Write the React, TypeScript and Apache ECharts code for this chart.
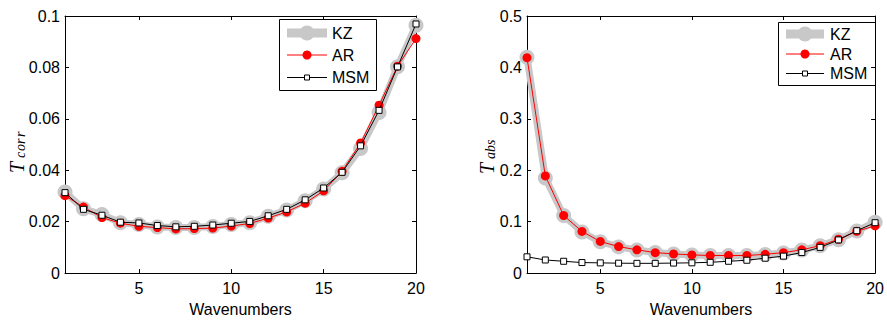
import React, { useEffect, useRef } from "react";
import * as echarts from "echarts";

// Wavenumber index shared by both panels
const wavenumbers = [1, 2, 3, 4, 5, 6, 7, 8, 9, 10, 11, 12, 13, 14, 15, 16, 17, 18, 19, 20];

// Left panel: T_corr
const corrKZ = [0.0315, 0.025, 0.0228, 0.0196, 0.0189, 0.0179, 0.0177, 0.0177, 0.0181, 0.0189, 0.0196, 0.0221, 0.0245, 0.0281, 0.0327, 0.039, 0.0485, 0.0625, 0.0803, 0.0964];
const corrAR = [0.0301, 0.0257, 0.0216, 0.0194, 0.0182, 0.0177, 0.0172, 0.0173, 0.0175, 0.0183, 0.0193, 0.0214, 0.0238, 0.0272, 0.032, 0.0396, 0.0506, 0.0653, 0.0805, 0.0912];
const corrMSM = [0.0313, 0.0248, 0.0225, 0.0198, 0.0195, 0.0185, 0.018, 0.0182, 0.0187, 0.0194, 0.0201, 0.0223, 0.0248, 0.0285, 0.0331, 0.0392, 0.0495, 0.0633, 0.0802, 0.0969];

// Right panel: T_abs
const absKZ = [0.42, 0.185, 0.112, 0.08, 0.061, 0.051, 0.045, 0.04, 0.037, 0.035, 0.034, 0.034, 0.034, 0.036, 0.039, 0.045, 0.053, 0.065, 0.082, 0.099];
const absAR = [0.419, 0.189, 0.112, 0.081, 0.0615, 0.0516, 0.0453, 0.0398, 0.0373, 0.0354, 0.0342, 0.0342, 0.0342, 0.0366, 0.0398, 0.0453, 0.0534, 0.0658, 0.0814, 0.0919];
const absMSM = [0.0317, 0.0255, 0.023, 0.0205, 0.0199, 0.0193, 0.019, 0.019, 0.0195, 0.02, 0.021, 0.023, 0.025, 0.029, 0.033, 0.04, 0.05, 0.0645, 0.0825, 0.098];

const xTicks = [5, 10, 15, 20];
const legendNames = ["KZ", "AR", "MSM"];

const GRAY = "#c8c8c8";
const FONT = "Liberation Sans";

const pairs = (ys: number[]) => wavenumbers.map((x, i) => [x, ys[i]]);

function xAxisPair(gridIndex: number) {
  const common = {
    type: "value",
    gridIndex,
    min: 1,
    max: 20,
    splitLine: { show: false },
    axisLine: { show: true, onZero: false, lineStyle: { color: "#000", width: 1 } },
    axisTick: { show: true, inside: true, length: 4, customValues: xTicks, lineStyle: { color: "#000" } },
  };
  return [
    {
      ...common,
      position: "bottom",
      axisLabel: { customValues: xTicks, color: "#000", fontSize: 16, fontFamily: FONT, margin: 7 },
      name: "Wavenumbers",
      nameLocation: "middle",
      nameGap: 24,
      nameTextStyle: { color: "#000", fontSize: 16, fontFamily: FONT },
    },
    { ...common, position: "top", axisLabel: { show: false } },
  ];
}

function yAxisPair(gridIndex: number, max: number, interval: number) {
  const common = {
    type: "value",
    gridIndex,
    min: 0,
    max,
    interval,
    splitLine: { show: false },
    axisLine: { show: true, onZero: false, lineStyle: { color: "#000", width: 1 } },
    axisTick: { show: true, inside: true, length: 4, lineStyle: { color: "#000" } },
  };
  return [
    {
      ...common,
      position: "left",
      axisLabel: {
        color: "#000",
        fontSize: 16,
        fontFamily: FONT,
        margin: 5,
        formatter: (v: number) => String(parseFloat(v.toFixed(4))),
      },
    },
    { ...common, position: "right", axisLabel: { show: false } },
  ];
}

function seriesSet(axisIndex: number, kz: number[], ar: number[], msm: number[]) {
  return [
    {
      name: legendNames[0],
      type: "line",
      xAxisIndex: axisIndex,
      yAxisIndex: axisIndex,
      data: pairs(kz),
      clip: false,
      z: 2,
      symbol: "circle",
      symbolSize: 15,
      lineStyle: { color: GRAY, width: 7 },
      itemStyle: { color: GRAY },
    },
    {
      name: legendNames[1],
      type: "line",
      xAxisIndex: axisIndex,
      yAxisIndex: axisIndex,
      data: pairs(ar),
      clip: false,
      z: 3,
      symbol: "circle",
      symbolSize: 9,
      lineStyle: { color: "#ff0000", width: 1 },
      itemStyle: { color: "#ff0000" },
    },
    {
      name: legendNames[2],
      type: "line",
      xAxisIndex: axisIndex,
      yAxisIndex: axisIndex,
      data: pairs(msm),
      clip: false,
      z: 4,
      symbol: "rect",
      symbolSize: 6,
      lineStyle: { color: "#000", width: 1 },
      itemStyle: { color: "#fff", borderColor: "#000", borderWidth: 1 },
    },
  ];
}

// Boxed legend drawn with graphic elements
function legendBox(x: number, y: number, w: number, h: number, rows: number[], lineX0: number, lineX1: number, textX: number) {
  const cx = (lineX0 + lineX1) / 2;
  const children: any[] = [
    { type: "rect", shape: { x: x + 0.5, y: y + 0.5, width: w, height: h }, style: { fill: "#fff", stroke: "#000", lineWidth: 1 } },
    { type: "line", shape: { x1: lineX0, y1: rows[0], x2: lineX1, y2: rows[0] }, style: { stroke: GRAY, lineWidth: 9 } },
    { type: "circle", shape: { cx, cy: rows[0], r: 7.5 }, style: { fill: GRAY } },
    { type: "line", shape: { x1: lineX0, y1: rows[1], x2: lineX1, y2: rows[1] }, style: { stroke: "#ff0000", lineWidth: 1 } },
    { type: "circle", shape: { cx, cy: rows[1], r: 4.5 }, style: { fill: "#ff0000" } },
    { type: "line", shape: { x1: lineX0, y1: rows[2] + 0.5, x2: lineX1, y2: rows[2] + 0.5 }, style: { stroke: "#000", lineWidth: 1 } },
    { type: "rect", shape: { x: cx - 2.5, y: rows[2] - 2, width: 5, height: 5 }, style: { fill: "#fff", stroke: "#000", lineWidth: 1 } },
  ];
  legendNames.forEach((name, i) => {
    children.push({
      type: "text",
      style: { text: name, x: textX, y: rows[i], fontSize: 16, fontFamily: FONT, fill: "#000", align: "left", verticalAlign: "middle" },
    });
  });
  return { type: "group", z: 100, children };
}

// Rotated italic axis symbol with a spaced-out subscript
function yLabel(cx: number, cy: number, sub: string) {
  const subLetters = sub.split("").map((ch, i) => ({
    type: "text",
    style: {
      text: ch,
      x: -7 + i * 7,
      y: 3,
      fontSize: 14,
      fontStyle: "italic",
      fontFamily: "Liberation Serif",
      fill: "#000",
      align: "left",
      verticalAlign: "middle",
    },
  }));
  return {
    type: "group",
    x: cx,
    y: cy,
    rotation: Math.PI / 2,
    children: [
      {
        type: "text",
        style: { text: "T", x: -22, y: 0, fontSize: 20, fontStyle: "italic", fontFamily: "Liberation Serif", fill: "#000", align: "left", verticalAlign: "middle" },
      },
      ...subLetters,
    ],
  };
}

export default function App() {
  const ref = useRef<HTMLDivElement>(null);

  useEffect(() => {
    if (!ref.current) return;
    const chart = echarts.init(ref.current, undefined, { renderer: "svg" });
    chart.setOption({
      animation: false,
      backgroundColor: "#fff",
      grid: [
        { left: 65, top: 16, width: 351, height: 268 },
        { left: 527, top: 16, width: 351, height: 268 },
      ],
      xAxis: [...xAxisPair(0), ...xAxisPair(1)],
      yAxis: [...yAxisPair(0, 0.1, 0.02), ...yAxisPair(1, 0.5, 0.1)],
      series: [...seriesSet(0, corrKZ, corrAR, corrMSM), ...seriesSet(2, absKZ, absAR, absMSM)],
      graphic: [
        legendBox(279, 19, 97, 71, [33, 55, 77], 287, 327, 332),
        legendBox(778, 22, 97, 63, [34, 54, 73], 786, 824, 830),
        yLabel(17, 151, "corr"),
        yLabel(487, 152, "abs"),
      ],
    });
    return () => chart.dispose();
  }, []);

  return <div ref={ref} style={{ position: "fixed", left: 0, top: 0, width: 887, height: 322 }} />;
}
